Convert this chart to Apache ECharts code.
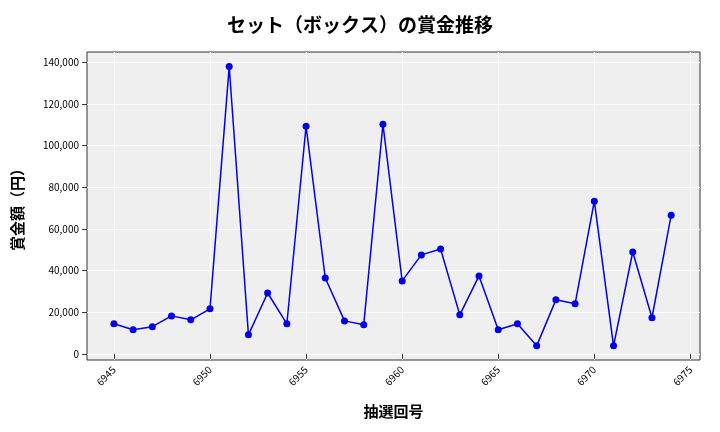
<!DOCTYPE html>
<html><head><meta charset="utf-8">
<script src="https://cdn.jsdelivr.net/npm/echarts@6/dist/echarts.min.js"></script>
<style>html,body{margin:0;padding:0;background:#fff}#c{width:720px;height:432px}</style>
</head><body><div id="c"></div>
<script>
const draws=[6945,6946,6947,6948,6949,6950,6951,6952,6953,6954,6955,6956,6957,6958,6959,6960,6961,6962,6963,6964,6965,6966,6967,6968,6969,6970,6971,6972,6973,6974];
const prizes=[14400,11500,13000,18200,16300,21600,138000,9100,29200,14400,109300,36400,15800,13900,110300,35000,47500,50300,18700,37400,11500,14400,3800,25900,24000,73300,3800,48900,17300,66600];
const xTicks=[6945,6950,6955,6960,6965,6970,6975];
const yTicks=[0,20000,40000,60000,80000,100000,120000,140000];
const font='"Noto Sans CJK JP","Noto Sans",sans-serif';
const chart=echarts.init(document.getElementById('c'));
chart.setOption({
 title:{text:'セット（ボックス）の賞金推移',left:'center',top:10,textStyle:{fontFamily:font,fontSize:19,fontWeight:'bold',color:'#000'}},
 grid:{left:87,right:20,top:52,bottom:72,backgroundColor:'#efefef',show:true,borderColor:'#333',borderWidth:1},
 xAxis:{type:'value',min:6943.6,max:6975.5,name:'抽選回号',nameLocation:'middle',nameGap:44,
  nameTextStyle:{fontFamily:font,fontSize:15,fontWeight:'bold',color:'#000'},
  axisLine:{show:false},
  axisTick:{show:true,customValues:xTicks,lineStyle:{color:'#333'}},
  axisLabel:{customValues:xTicks,rotate:45,fontSize:10,color:'#000',fontFamily:font,formatter:v=>String(v)},
  splitLine:{show:true,lineStyle:{color:'#fff',width:1}}},
 yAxis:{type:'value',min:-3000,max:145000,name:'賞金額（円）',nameLocation:'middle',nameGap:62,
  nameTextStyle:{fontFamily:font,fontSize:15,fontWeight:'bold',color:'#000'},
  axisLine:{show:false},
  axisTick:{show:true,customValues:yTicks,lineStyle:{color:'#333'}},
  axisLabel:{customValues:yTicks,fontSize:10,color:'#000',fontFamily:font,formatter:v=>v.toLocaleString('en-US')},
  splitLine:{show:true,lineStyle:{color:'#fff',width:1}}},
 series:[{type:'line',data:draws.map((d,i)=>[d,prizes[i]]),color:'#0000ee',symbol:'circle',symbolSize:7,
  lineStyle:{width:1.5,color:'#0000ee'},itemStyle:{color:'#0000ee'},animation:false}]
});
</script></body></html>
